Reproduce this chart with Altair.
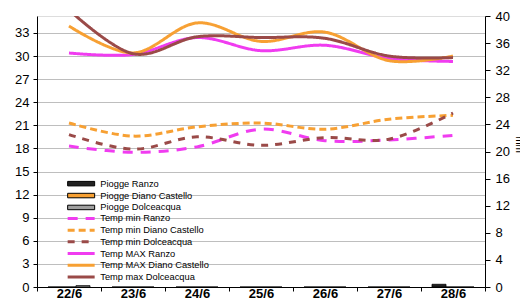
import altair as alt
import pandas as pd

dates = ["22/6", "23/6", "24/6", "25/6", "26/6", "27/6", "28/6"]

piogge_ranzo = [0, 0, 0, 0, 0, 0, 0.4]
piogge_diano = [0, 0, 0, 0, 0, 0, 0]
piogge_dolce = [0.2, 0, 0, 0, 0, 0, 0]

tmin_ranzo = [18.3, 17.5, 18.2, 20.5, 19.0, 19.1, 19.7]
tmin_diano = [21.3, 19.6, 20.8, 21.3, 20.5, 21.8, 22.3]
tmin_dolce = [19.8, 17.9, 19.5, 18.4, 19.4, 19.2, 22.6]
tmax_ranzo = [30.4, 30.2, 32.4, 30.7, 31.4, 29.7, 29.3]
tmax_diano = [33.9, 30.4, 34.3, 31.9, 33.1, 29.4, 30.0]
tmax_dolce = [36.0, 30.3, 32.5, 32.4, 32.3, 30.0, 29.8]

bar_names = ["Piogge Ranzo", "Piogge Diano Castello", "Piogge Dolceacqua"]
line_names = ["Temp min Ranzo", "Temp min Diano Castello", "Temp min Dolceacqua",
              "Temp MAX Ranzo", "Temp MAX Diano Castello", "Temp max Dolceacqua"]

bar_series = [piogge_ranzo, piogge_diano, piogge_dolce]
line_series = [tmin_ranzo, tmin_diano, tmin_dolce, tmax_ranzo, tmax_diano, tmax_dolce]

bars_df = pd.DataFrame([
    {"date": d, "label": n, "mm": v}
    for n, s in zip(bar_names, bar_series) for d, v in zip(dates, s)
])
lines_df = pd.DataFrame([
    {"date": d, "series": n, "value": v}
    for n, s in zip(line_names, line_series) for d, v in zip(dates, s)
])

FONT = "Liberation Sans"
MAGENTA = "#F03CF0"
ORANGE = "#F7A033"
BROWN = "#9A4A48"

x_enc = alt.X(
    "date:N", sort=dates,
    scale=alt.Scale(type="band", domain=dates, paddingInner=0, paddingOuter=0),
    axis=alt.Axis(title=None, labelFont=FONT, labelFontSize=13, labelFontWeight="bold",
                  labelColor="black", tickBand="extent", tickSize=4, labelPadding=6,
                  labelBaseline="alphabetic",
                  labelAngle=0, domainColor="black", tickColor="black"),
)

bar_legend = alt.Legend(
    title=None, orient="none", legendX=39.5, legendY=163,
    symbolType="M-4.5,-0.75L4.5,-0.75L4.5,0.75L-4.5,0.75Z", symbolSize=36,
    symbolStrokeColor="black", symbolStrokeWidth=1,
    labelFont=FONT, labelFontSize=9.3, labelColor="black", labelOffset=14.5,
    rowPadding=1.9, padding=0, labelLimit=300,
)

bars = alt.Chart(bars_df).mark_bar(stroke="black", strokeWidth=0.8).encode(
    x=x_enc,
    xOffset=alt.XOffset("label:N", sort=bar_names,
                        scale=alt.Scale(domain=bar_names, paddingInner=0, paddingOuter=0.786)),
    y=alt.Y("mm:Q", scale=alt.Scale(domain=[0, 40], nice=False),
            axis=alt.Axis(orient="right", values=list(range(0, 41, 4)), grid=False,
                          title="mm", titleFont=FONT, titleFontSize=10, titleFontWeight="normal",
                          titleColor="black", titleX=30, titleY=128, titleAngle=90,
                          titleBaseline="alphabetic", titleAlign="center",
                          labelFont=FONT, labelFontSize=13, labelColor="black",
                          tickSize=5, labelPadding=5, domainColor="black", tickColor="black")),
    fill=alt.Fill("label:N", sort=bar_names,
                  scale=alt.Scale(domain=bar_names, range=["#222222", ORANGE, "#A0A0A0"]),
                  legend=bar_legend),
)

def line_legend():
    return alt.Legend(
        title=None, orient="none", legendX=39.5, legendY=197.8,
        symbolType="M-4.5,0L4.5,0", symbolSize=36, symbolFillColor="transparent",
        labelFont=FONT, labelFontSize=9.3, labelColor="black", labelOffset=14.5,
        rowPadding=-1.3, padding=0, labelLimit=300,
    )

lines = alt.Chart(lines_df).mark_line(interpolate="cardinal", clip=True).encode(
    x=x_enc,
    y=alt.Y("value:Q", scale=alt.Scale(domain=[0, 35.2], nice=False),
            axis=alt.Axis(orient="left", values=list(range(0, 34, 3)), grid=True,
                          gridColor="#BEBEBE", gridWidth=1, title=None,
                          labelFont=FONT, labelFontSize=13, labelColor="black",
                          tickSize=4, labelPadding=4, domainColor="black", tickColor="black")),
    stroke=alt.Stroke("series:N", sort=line_names,
                      scale=alt.Scale(domain=line_names,
                                      range=[MAGENTA, ORANGE, BROWN, MAGENTA, ORANGE, BROWN]),
                      legend=line_legend()),
    strokeDash=alt.StrokeDash("series:N", sort=line_names,
                              scale=alt.Scale(domain=line_names,
                                              range=[[10, 8], [7, 4], [7, 7], [1, 0], [1, 0], [1, 0]]),
                              legend=line_legend()),
    strokeWidth=alt.StrokeWidth("series:N", sort=line_names,
                                scale=alt.Scale(domain=line_names, range=[3, 3, 2.5, 3, 3, 2]),
                                legend=line_legend()),
)

chart = alt.layer(bars, lines).resolve_scale(
    y="independent"
).properties(
    width=448, height=271,
    autosize=alt.AutoSizeParams(type="none"),
    padding={"left": 29, "top": 8, "right": 35, "bottom": 11},
).configure_view(stroke=None).configure(background="white")

chart.save("out.html", embed_options={"renderer": "svg", "actions": False})
